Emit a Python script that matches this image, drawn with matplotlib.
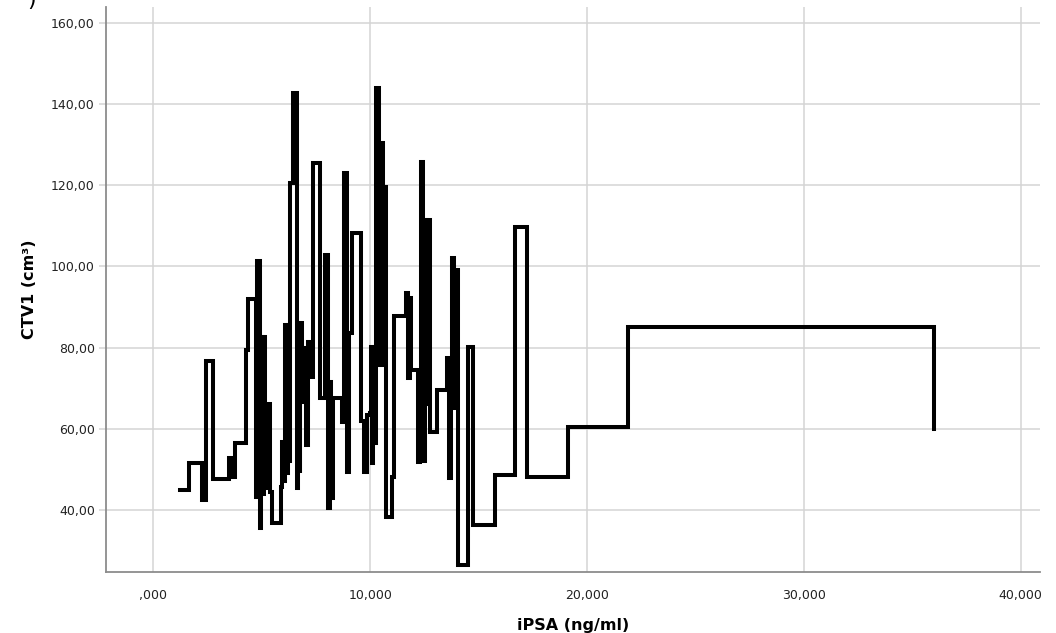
import matplotlib
matplotlib.use("Agg")
import matplotlib.pyplot as plt
from matplotlib.ticker import FuncFormatter

# iPSA (ng/ml) vs CTV1 (cm3), drawn as a step line sorted by iPSA
ipsa = [
    1.22, 1.64, 2.24, 2.42, 2.75, 3.48, 3.62, 3.76, 4.27, 4.34,
    4.73, 4.78, 4.89, 4.94, 5.01, 5.08, 5.15, 5.22, 5.26, 5.31,
    5.38, 5.45, 5.88, 5.93, 6.00, 6.07, 6.14, 6.21, 6.25, 6.30,
    6.44, 6.60, 6.67, 6.74, 6.78, 6.85, 6.95, 7.04, 7.13, 7.27,
    7.38, 7.68, 7.92, 8.03, 8.12, 8.21, 8.26, 8.70, 8.77, 8.93,
    9.02, 9.16, 9.55, 9.69, 9.85, 9.97, 10.02, 10.08, 10.13, 10.20,
    10.25, 10.38, 10.45, 10.52, 10.59, 10.64, 10.71, 11.01, 11.08, 11.65,
    11.75, 11.81, 11.88, 12.21, 12.28, 12.32, 12.44, 12.51, 12.58, 12.65,
    12.74, 13.08, 13.55, 13.64, 13.71, 13.75, 13.87, 13.96, 14.03, 14.49,
    14.75, 15.76, 16.68, 17.24, 19.13, 21.90, 36.02,
]
ctv1 = [
    45.0, 51.6, 42.5, 76.8, 47.6, 52.8, 48.1, 56.5, 79.5, 92.0,
    43.2, 101.3, 35.6, 82.6, 44.0, 82.6, 47.4, 64.1, 45.4, 66.2,
    44.5, 36.8, 45.7, 56.7, 47.0, 85.6, 49.0, 85.6, 52.0, 120.5,
    142.7, 45.4, 86.0, 49.0, 86.0, 66.6, 80.0, 56.0, 81.4, 72.8,
    125.5, 67.6, 102.8, 40.5, 71.5, 43.0, 67.6, 61.7, 123.0, 49.4,
    83.6, 108.2, 62.0, 49.4, 63.4, 63.9, 80.1, 51.6, 80.1, 56.5,
    143.9, 94.2, 75.7, 130.4, 93.0, 119.6, 38.3, 48.1, 87.8, 93.4,
    72.5, 92.2, 74.5, 51.8, 74.0, 125.7, 52.0, 111.4, 66.0, 111.4,
    59.2, 69.5, 77.4, 47.9, 69.0, 102.1, 65.1, 99.1, 26.5, 80.2,
    36.3, 48.6, 109.7, 48.1, 60.4, 85.1, 60.0,
]

x_ticks = [0, 10, 20, 30, 40]
y_ticks = [40, 60, 80, 100, 120, 140, 160]


def comma_fmt(decimals):
    def fmt(v, _pos):
        s = f"{v:.{decimals}f}".replace(".", ",")
        if s.startswith("0,"):
            s = s[1:]
        return s
    return FuncFormatter(fmt)


fig = plt.figure(figsize=(10.56, 6.33), dpi=100)
ax = fig.add_axes([0.1004, 0.0964, 0.8846, 0.8926])

ax.plot(ipsa, ctv1, drawstyle="steps-post", color="black", linewidth=2.9,
        solid_joinstyle="miter", zorder=3)

ax.set_xlim(-2.19, 40.9)
ax.set_ylim(24.7, 163.9)
ax.set_xticks(x_ticks)
ax.set_yticks(y_ticks)
ax.xaxis.set_major_formatter(comma_fmt(3))
ax.yaxis.set_major_formatter(comma_fmt(2))

ax.grid(True, color="#d4d4d4", linewidth=1.1, zorder=0)
ax.set_axisbelow(True)
for side in ("top", "right"):
    ax.spines[side].set_visible(False)
for side in ("left", "bottom"):
    ax.spines[side].set_color("#8c8c8c")
    ax.spines[side].set_linewidth(1.3)

ax.tick_params(axis="y", length=5, width=1.1, color="#d4d4d4",
               labelsize=9, labelcolor="#222222", pad=3)
ax.tick_params(axis="x", length=0, labelsize=9, labelcolor="#222222", pad=12)

ax.set_xlabel("iPSA (ng/ml)", fontsize=11.5, fontweight="bold", labelpad=12)
ax.set_ylabel("CTV1 (cm³)", fontsize=11.5, fontweight="bold", labelpad=10)

fig.text(0.03, 1.0, ")", fontsize=16, ha="center", va="center")

fig.savefig("out.png", dpi=100)
